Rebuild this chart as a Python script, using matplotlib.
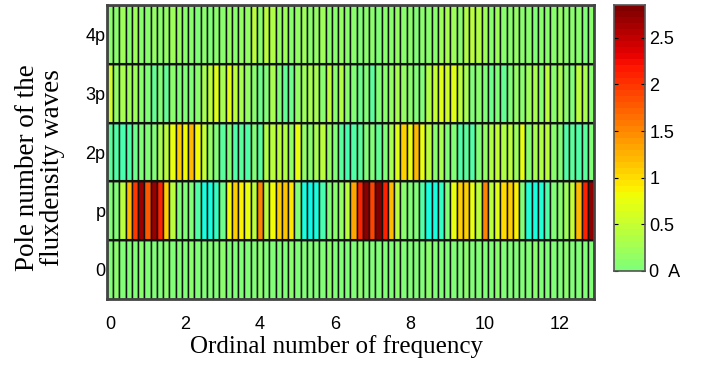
import numpy as np
import matplotlib
matplotlib.use("Agg")
import matplotlib.pyplot as plt
from matplotlib.colors import Normalize

# ordinal number of frequency (cell centres) and pole-number rows
n_cols = 78
freq = np.arange(n_cols) / 6.0
pole_labels = ['0', 'p', '2p', '3p', '4p']

# amplitude in A per row (negative = cyan side of jet)
row_0 = [0.05, 0.08, 0.04, 0.06, 0.05, 0.07, 0.04, 0.06, 0.05, 0.08, 0.05, 0.06, 0.04,
         0.07, 0.05, 0.06, 0.04, 0.05, 0.07, 0.05, 0.06, 0.04, 0.06, 0.05, 0.07, 0.05,
         0.06, 0.04, 0.05, 0.07, 0.05, 0.06, 0.04, 0.06, 0.05, 0.07, 0.05, 0.06, 0.04,
         0.05, 0.07, 0.05, 0.06, 0.04, 0.06, 0.05, 0.07, 0.05, 0.06, 0.04, 0.05, 0.07,
         0.05, 0.06, 0.04, 0.06, 0.05, 0.07, 0.05, 0.06, 0.04, 0.05, 0.07, 0.05, 0.06,
         0.04, 0.06, 0.05, 0.07, 0.05, 0.06, 0.04, 0.05, 0.07, 0.05, 0.06, 0.04, 0.06]
row_p = [0.0, 0.05, 0.45, 1.2, 2.0, 2.7, 1.8, 2.7, 2.1, 1.1, 0.45, 0.05, 0.0,
         0.0, -0.3, -0.65, -0.7, -0.5, -0.1, 0.8, 1.1, 0.9, 0.75, 0.4, 1.5, 0.4,
         0.8, 1.05, 1.15, 0.95, 0.05, -0.65, -0.75, -0.65, -0.35, 0.0, 0.1, 0.15, 0.45,
         1.3, 2.1, 2.75, 1.9, 2.8, 2.1, 1.2, 0.4, 0.1, 0.05, 0.0, -0.3, -0.65,
         -0.7, -0.5, 0.0, 0.75, 1.1, 1.05, 0.75, 0.45, 1.5, 0.4, 0.7, 1.0, 1.1,
         0.9, 0.05, -0.6, -0.7, -0.6, -0.3, 0.0, 0.1, 0.2, 0.5, 1.2, 2.1, 2.75]
row_2p = [-0.2, -0.3, -0.35, -0.3, -0.1, 0.0, 0.0, 0.05, 0.3, 0.45, 0.75, 1.1, 0.8,
          1.2, 0.8, 0.5, 0.15, 0.0, -0.2, 0.0, -0.3, -0.25, -0.3, 0.0, -0.25, 0.35,
          0.45, 0.45, 0.35, 0.15, 0.75, 0.15, 0.1, 0.3, 0.45, 0.15, 0.05, -0.25, -0.35,
          -0.3, -0.25, 0.0, 0.0, -0.15, 0.0, 0.3, 0.7, 1.1, 0.75, 1.2, 0.75, 0.45,
          0.1, 0.3, 0.05, 0.0, -0.3, -0.2, -0.3, 0.0, 0.15, 0.35, 0.5, 0.35, 0.4,
          0.2, 0.75, 0.1, 0.3, 0.35, 0.45, 0.1, 0.0, -0.3, -0.25, -0.3, -0.2, 0.05]
row_3p = [0.55, 0.15, 0.3, 0.2, 0.2, 0.1, 0.0, -0.15, 0.0, -0.15, 0.1, 0.05, 0.05,
          0.0, 0.1, 0.3, 0.4, 0.7, 0.3, 0.65, 0.45, 0.3, 0.15, 0.1, -0.1, 0.05,
          0.3, 0.05, -0.15, -0.1, 0.15, 0.2, 0.3, 0.3, 0.1, 0.45, 0.1, 0.35, 0.1,
          0.0, -0.1, 0.05, -0.2, 0.0, 0.1, 0.15, 0.3, 0.15, 0.1, 0.05, 0.05, 0.35,
          0.5, 0.65, 0.55, 0.7, 0.4, 0.3, 0.05, 0.1, 0.05, -0.1, 0.05, -0.15, 0.05,
          0.15, 0.1, 0.25, 0.3, 0.1, 0.45, 0.1, 0.3, 0.1, 0.0, 0.4, 0.3, 0.1]
row_4p = [0.1, 0.1, 0.2, 0.1, 0.2, 0.1, 0.1, 0.15, 0.1, 0.15, 0.2, 0.15, 0.1,
          0.1, 0.05, 0.1, 0.05, 0.1, 0.1, 0.15, 0.1, 0.15, 0.15, 0.45, 0.1, 0.4,
          0.35, 0.15, 0.2, 0.1, 0.15, 0.25, 0.1, 0.15, 0.2, 0.1, 0.1, 0.15, 0.1,
          0.1, 0.05, 0.1, 0.1, 0.05, 0.1, 0.1, 0.15, 0.1, 0.1, 0.05, 0.1, 0.1,
          0.1, 0.2, 0.3, 0.25, 0.1, 0.35, 0.4, 0.35, 0.25, 0.1, 0.2, 0.1, 0.1,
          0.15, 0.1, 0.1, 0.05, 0.1, 0.1, 0.1, 0.15, 0.1, 0.1, 0.1, 0.05, 0.1]

x_ticks = [0, 2, 4, 6, 8, 10, 12]
cbar_ticks = [0, 0.5, 1, 1.5, 2, 2.5]
cbar_labels = ['0  A', '0.5', '1', '1.5', '2', '2.5']
vmax = 2.85

Z = np.array([row_0, row_p, row_2p, row_3p, row_4p])
half = 0.5 * (freq[1] - freq[0])
x_edges = np.append(freq - half, freq[-1] + half)
y_edges = np.arange(len(pole_labels) + 1) - 0.5

cmap = plt.get_cmap('jet', 88)
norm = Normalize(vmin=-vmax, vmax=vmax)

sans = ['Liberation Sans', 'DejaVu Sans']
serif = ['Liberation Serif', 'DejaVu Serif']

fig = plt.figure(figsize=(7.16, 3.68), dpi=100)
ax = fig.add_axes([0.1494, 0.1875, 0.6802, 0.7989])

ax.pcolormesh(x_edges, y_edges, Z, cmap=cmap, norm=norm,
              edgecolor='#111111', linewidth=1.05, antialiased=True)
for yb in y_edges[1:-1]:
    ax.axhline(yb, color='#111111', linewidth=1.5)

ax.set_xlim(x_edges[0], x_edges[-1])
ax.set_ylim(y_edges[0], y_edges[-1])
ax.set_xticks(x_ticks)
ax.set_xticklabels([str(t) for t in x_ticks], family=sans, fontsize=13)
ax.set_yticks(range(len(pole_labels)))
ax.set_yticklabels(pole_labels, family=sans, fontsize=13)
ax.tick_params(axis='x', length=0, pad=12)
ax.tick_params(axis='y', length=0, pad=1)
for s in ax.spines.values():
    s.set_linewidth(2.0)
    s.set_edgecolor('#444444')

ax.set_xlabel('Ordinal number of frequency', family=serif, fontsize=18)
ax.set_ylabel('Pole number of the\nfluxdensity waves', family=serif, fontsize=19.5,
              linespacing=1.0)
ax.xaxis.set_label_coords(0.472, -0.122)
ax.yaxis.set_label_coords(-0.086, 0.446)

# colour bar: only the positive half of the symmetric jet scale
cax = fig.add_axes([0.8575, 0.2636, 0.0433, 0.7228])
cb_edges = np.linspace(0, vmax, 45)
cb_mid = 0.5 * (cb_edges[:-1] + cb_edges[1:])
cax.pcolormesh([0, 1], cb_edges, cb_mid[:, None], cmap=cmap, norm=norm)
cax.set_xlim(0, 1)
cax.set_ylim(0, vmax)
cax.set_xticks([])
cax.yaxis.tick_right()
cax.set_yticks(cbar_ticks)
cax.set_yticklabels(cbar_labels, family=sans, fontsize=13)
cax.tick_params(axis='y', direction='in', left=True, right=True, length=3,
                width=0.8, pad=3)
for s in cax.spines.values():
    s.set_linewidth(1.2)
    s.set_edgecolor('#555555')

fig.savefig('out.png', dpi=100)
